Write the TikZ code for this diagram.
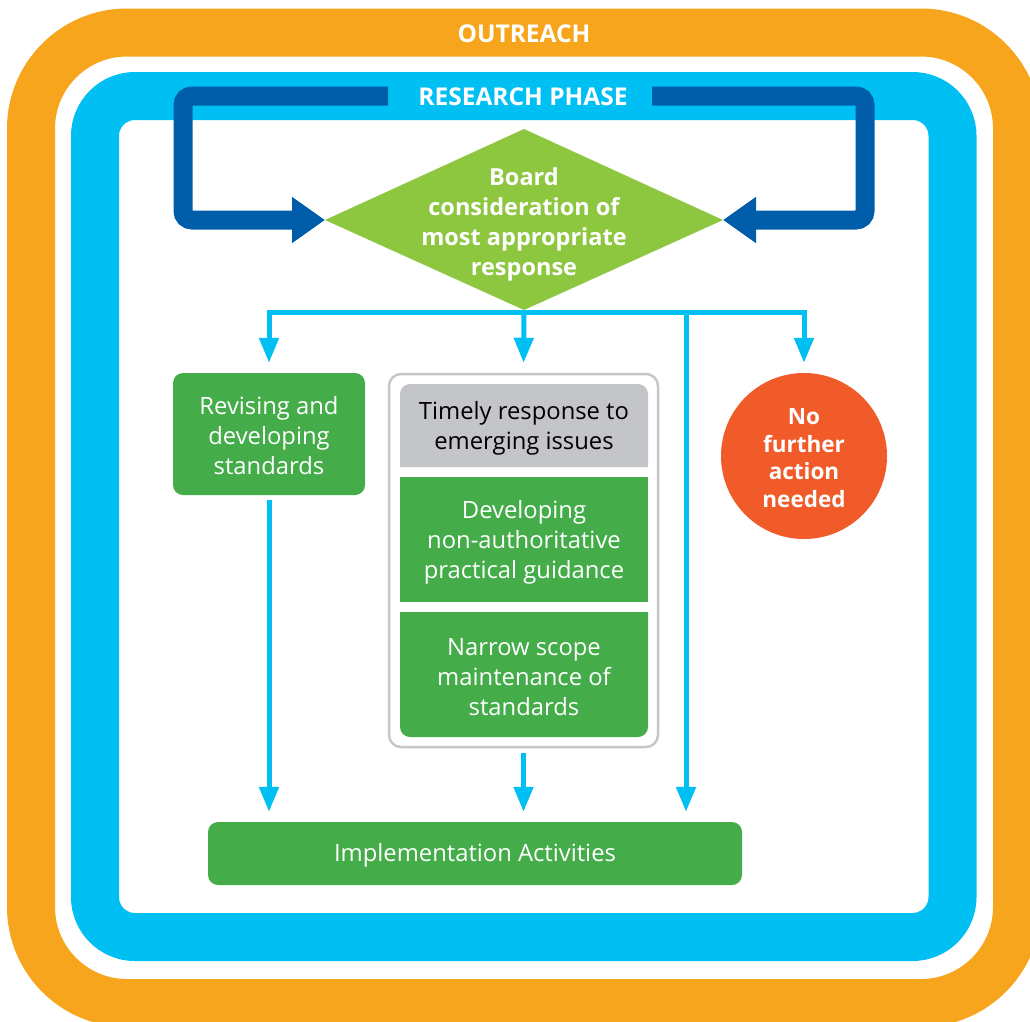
\documentclass[tikz,border=0pt]{standalone}
\usepackage{fontspec}
\setmainfont{Open Sans}
\usetikzlibrary{arrows.meta}
\definecolor{orng}{HTML}{F7A51D}
\definecolor{cyanb}{HTML}{00BFF2}
\definecolor{dblue}{HTML}{005DA9}
\definecolor{lgreen}{HTML}{8DC63F}
\definecolor{gbox}{HTML}{44AD4A}
\definecolor{redc}{HTML}{F15A29}
\definecolor{greyb}{HTML}{C3C5C8}
\definecolor{frameg}{HTML}{C5C7C9}
\begin{document}
\begin{tikzpicture}[x=1pt,y=-1pt,
  boxtxt/.style={font=\fontsize{23.8}{30}\selectfont, align=center, text=white, inner sep=0pt},
  boldtxt/.style={font=\bfseries\fontsize{23.5}{30}\selectfont, align=center, text=white, inner sep=0pt},
  greenbox/.style={fill=gbox, rounded corners=10pt, boxtxt},
  carrow/.style={draw=cyanb, line width=5pt, -{Triangle[length=25pt,width=19pt]}},
  cline/.style={draw=cyanb, line width=5pt},
  darrow/.style={draw=dblue, line width=19pt, rounded corners=9pt, -{Triangle[length=33pt,width=44pt]}}
]
\useasboundingbox (0,0) rectangle (1030,1021);
\clip (0,0) rectangle (1030,1021);
\fill[white] (0,0) rectangle (1030,1021);
% bands
\draw[orng, line width=48pt, rounded corners=96pt] (31,32.5) rectangle (1017,1003);
\draw[cyanb, line width=48pt, rounded corners=40pt] (95,96) rectangle (952.5,937);
\node[boldtxt, font=\bfseries\fontsize{24.5}{30}\selectfont] (outreach) at (524,34) {OUTREACH};
\node[boldtxt, font=\bfseries\fontsize{24.5}{30}\selectfont] (research) at (523,97) {RESEARCH PHASE};
% diamond
\coordinate (dl) at (325,220);
\coordinate (dr) at (723,220);
\coordinate (dt) at (524,129);
\coordinate (db) at (524,310);
\fill[lgreen] (dl) -- (dt) -- (dr) -- (db) -- cycle;
\node[boldtxt] (board) at (524,224) {Board\\consideration of\\most appropriate\\response};
% dark blue loop arrows
\coordinate (rl) at (388,96);
\coordinate (rr) at (652,96);
\draw[darrow] (rl) -- (183,96) -- (183,220) -- (dl);
\draw[darrow] (rr) -- (865,96) -- (865,220) -- (dr);
% revising box
\node[greenbox, minimum width=192pt, minimum height=122pt] (rev) at (269,434) {};
\node[boxtxt] (revtxt) at (269,436) {Revising and\\developing\\standards};
% middle frame
\node[draw=frameg, line width=2.5pt, rounded corners=12pt, minimum width=269pt, minimum height=373pt, inner sep=0pt] (mid) at (523.5,560.5) {};
\fill[greyb] (400,467) [rounded corners=10pt] -- (400,384) -- (648,384) [sharp corners] -- (648,467) -- cycle;
\node[boxtxt, text=black] (timely) at (524,428) {Timely response to\\emerging issues};
\fill[gbox] (400,477) rectangle (648,602);
\node[boxtxt] (devel) at (524,542) {Developing\\non-authoritative\\practical guidance};
\fill[gbox] (400,612) -- (648,612) [rounded corners=10pt] -- (648,737) -- (400,737) [sharp corners] -- cycle;
\node[boxtxt] (narrow) at (524,677) {Narrow scope\\maintenance of\\standards};
% red circle
\node[circle, fill=redc, minimum size=166pt, inner sep=0pt] (noact) at (804,456) {};
\node[boldtxt, font=\bfseries\fontsize{22.5}{27.7}\selectfont] (noacttxt) at (804,458) {No\\further\\action\\needed};
% implementation
\node[greenbox, minimum width=534pt, minimum height=63pt] (impl) at (475,853.5) {};
\node[boxtxt] (impltxt) at (475,855.5) {Implementation Activities};
% cyan connectors
\coordinate (hl) at (269,312);
\coordinate (hr) at (804,312);
\coordinate (hm) at (686,312);
\draw[cline] (db) -- (524,312);
\draw[cline] ([xshift=-2.5pt]hl) -- ([xshift=2.5pt]hr);
\draw[carrow, shorten >=10pt] (hl) -- (rev.north);
\draw[carrow, shorten >=10pt] (524,312) -- (mid.north);
\draw[carrow, shorten >=10pt] (hr) -- (noact.north);
\draw[carrow, shorten >=10pt] (hm) -- (impl.north -| hm);
\draw[carrow, shorten <=5pt, shorten >=10pt] (rev.south) -- (impl.north -| rev.south);
\draw[carrow, shorten <=5pt, shorten >=10pt] (mid.south) -- (impl.north -| mid.south);
\end{tikzpicture}
\end{document}
